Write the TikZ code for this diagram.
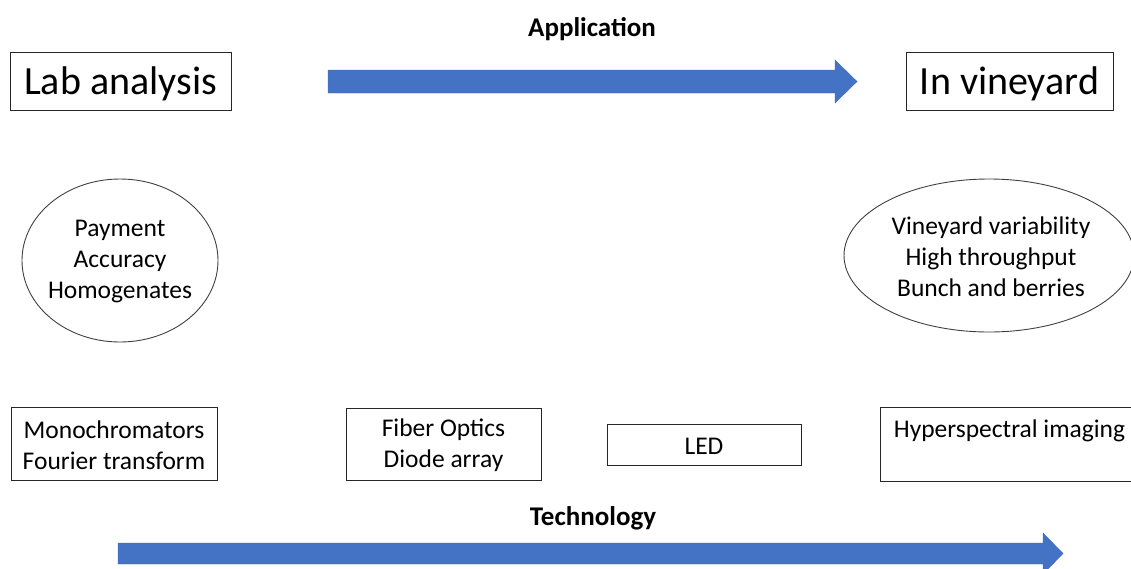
\documentclass[tikz,border=0pt]{standalone}
\usepackage{fontspec}
\setmainfont{Carlito}
\usetikzlibrary{shapes.geometric}
\definecolor{arrowblue}{HTML}{4472C4}
\begin{document}
\begin{tikzpicture}[x=1pt,y=-1pt,
  box/.style={draw=black!85, line width=0.9pt, inner sep=0pt},
  oval/.style={ellipse, draw=black!75, line width=0.9pt, inner sep=0pt, align=center},
  bigtext/.style={font=\fontsize{40}{48}\selectfont, text height=34pt, text depth=8pt},
  midtext/.style={font=\fontsize{25.5}{31}\selectfont, align=center},
  titletext/.style={font=\bfseries\fontsize{27}{32}\selectfont},
  blockarrow/.style={fill=arrowblue, draw=arrowblue!92!black, line width=0.4pt}]
\useasboundingbox (0,0) rectangle (1131,568);

% titles
\node[titletext] (app) at (592,29) {Application};
\node[titletext] (tech) at (593,518) {Technology};

% top boxes
\node[box, bigtext, minimum width=221pt, minimum height=58pt] (lab) at (120.5,81) {Lab analysis};
\node[box, bigtext, minimum width=207pt, minimum height=58pt] (vin) at (1009.5,81) {In vineyard};

% top arrow
\coordinate (ta) at (328,81.5);
\fill[blockarrow] (ta) ++(0,-11.5) -- ++(507,0) -- ++(0,-10) -- ++(22,21.5) -- ++(-22,21.5) -- ++(0,-10) -- ++(-507,0) -- cycle;

% ellipses
\node[oval, minimum width=196pt, minimum height=163pt] (lefto) at (120,260.5) {};
\node[midtext] (leftt) at (120,262) {Payment\\Accuracy\\Homogenates};
\node[oval, minimum width=290pt, minimum height=153pt] (righto) at (989,255.5) {};
\node[midtext] (rightt) at (991,257) {Vineyard variability\\High throughput\\Bunch and berries};

% technology boxes
\node[box, minimum width=206pt, minimum height=73pt] (mono) at (114,443.5) {};
\node[midtext] (monot) at (114,445) {Monochromators\\Fourier transform};
\node[box, minimum width=195pt, minimum height=72pt] (fiber) at (443.5,444) {};
\node[midtext] (fibert) at (443.5,445.5) {Fiber Optics\\Diode array};
\node[box, minimum width=194pt, minimum height=41pt] (led) at (704,444.5) {};
\node[midtext] (ledt) at (704,446) {LED};
\node[box, minimum width=260pt, minimum height=74pt, anchor=north west] (hyp) at (880,407) {};
\node[midtext] (hyptext) at (1009.5,430.5) {Hyperspectral imaging};

% bottom arrow
\coordinate (ba) at (118,553.5);
\fill[blockarrow] (ba) ++(0,-10.5) -- ++(925,0) -- ++(0,-10) -- ++(20,20.5) -- ++(-20,20.5) -- ++(0,-10) -- ++(-925,0) -- cycle;
\end{tikzpicture}
\end{document}
